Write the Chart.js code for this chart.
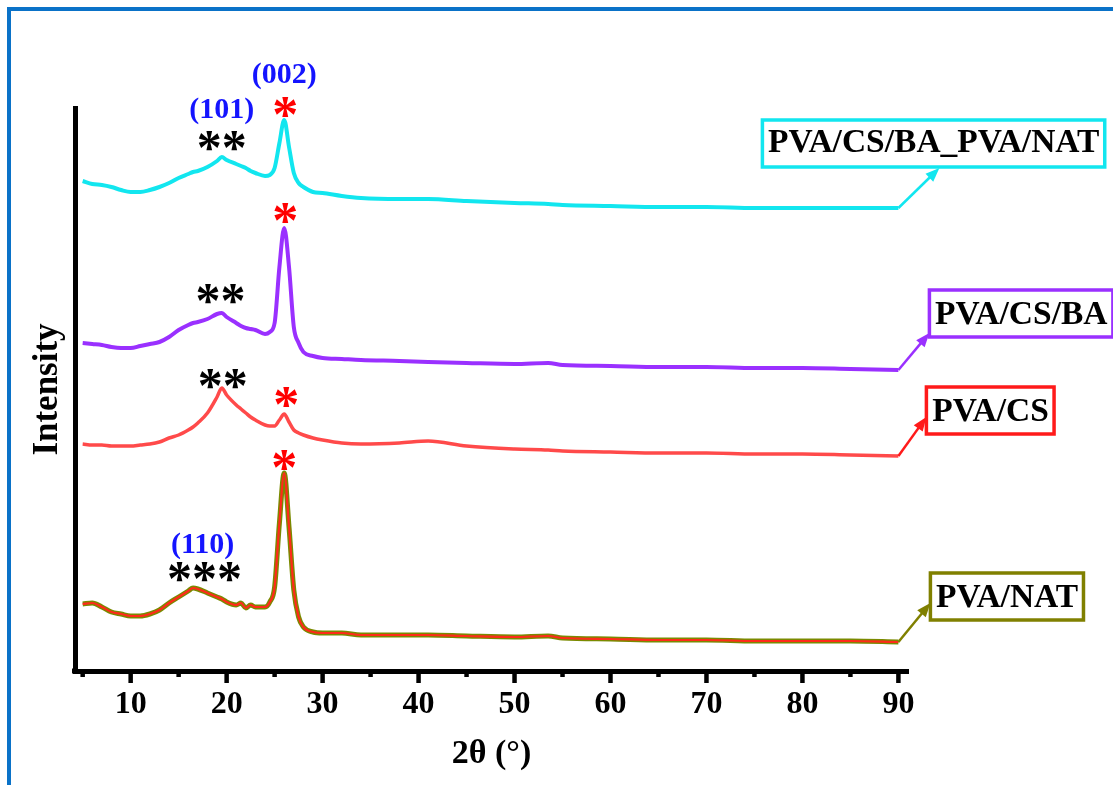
<!DOCTYPE html>
<html>
<head>
<meta charset="utf-8">
<title>XRD patterns</title>
<script src="https://cdn.jsdelivr.net/npm/chart.js@4.4.1/dist/chart.umd.min.js"></script>
<style>
  html, body { margin: 0; padding: 0; background: #fff; overflow: hidden; }
  #wrap { position: relative; width: 1113px; height: 785px; }
  #frame { position: absolute; left: 7px; top: 7px; width: 1130px; height: 800px; border: 4px solid #0a72c8; box-sizing: border-box; }
  canvas { position: absolute; left: 0; top: 0; }
</style>
</head>
<body>
<div id="wrap">
  <div id="frame"></div>
  <canvas id="xrd" width="1113" height="785"></canvas>
</div>
<script>
// 2-theta sample positions (degrees)
const theta = [5, 6, 7, 8, 9, 10, 11, 12, 13, 14, 15, 16, 16.5, 17, 18, 19, 19.5, 20, 21, 21.5,
  22, 22.5, 23, 24, 24.5, 25, 25.5, 26, 26.5, 27, 27.5, 28, 29, 30, 32, 34, 38, 41, 45, 50,
  53.5, 55, 60, 65, 70, 75, 80, 85, 90];

// intensities (arb. units, curves already offset)
const pvaCsBaPvaNat = [490, 487, 486, 484, 481, 479, 479, 481, 484, 488, 493, 497, 499, 500, 504, 510, 514, 511, 507, 505,
  503, 500, 498, 495, 496, 503, 528, 551, 524, 498, 488, 484, 479, 478, 475, 473, 472, 472, 470, 468,
  467, 466, 465, 464, 464, 463, 463, 463, 463];
const pvaCsBa = [328, 327, 326, 324, 323, 323, 325, 327, 329, 334, 341, 346, 348, 349, 352, 357, 358, 354, 348, 345,
  343, 342, 341, 337, 339, 348, 404, 443, 404, 344, 328, 319, 315, 313, 312, 311, 310, 309, 308, 307,
  308, 306, 305, 304, 304, 303, 303, 302, 301];
const pvaCs = [227, 226, 226, 225, 225, 225, 226, 227, 229, 233, 236, 241, 244, 248, 258, 274, 283, 276, 266, 262,
  258, 254, 251, 246, 245, 245, 251, 257, 249, 241, 238, 236, 233, 231, 228, 227, 228, 230, 225, 222,
  221, 220, 219, 218, 218, 217, 217, 216, 215];
const pvaNat = [67, 68, 64, 59, 57, 55, 55, 57, 61, 68, 74, 80, 83, 82, 78, 74, 72, 69, 66, 68,
  63, 66, 64, 64, 69, 84, 148, 198, 144, 81, 54, 44, 39, 38, 38, 36, 36, 36, 35, 34,
  35, 33, 32, 31, 31, 30, 30, 30, 29];

const seriesNames = ["PVA/CS/BA_PVA/NAT", "PVA/CS/BA", "PVA/CS", "PVA/NAT"];
const xTicks = [10, 20, 30, 40, 50, 60, 70, 80, 90];
const xMinorTicks = [5, 15, 25, 35, 45, 55, 65, 75, 85];

const SERIF = "'Liberation Serif', 'Times New Roman', serif";

// peak markers, in data coordinates
const notes = [
  { text: "(002)", x: 26.0, y: 595, kind: "hkl" },
  { text: "*", x: 26.1, y: 564, kind: "red" },
  { text: "(101)", x: 19.5, y: 560, kind: "hkl" },
  { text: "**", x: 19.5, y: 530, kind: "black" },
  { text: "*", x: 26.1, y: 458, kind: "red" },
  { text: "**", x: 19.35, y: 377, kind: "black" },
  { text: "**", x: 19.6, y: 292, kind: "black" },
  { text: "*", x: 26.2, y: 274, kind: "red" },
  { text: "*", x: 26.0, y: 211, kind: "red" },
  { text: "(110)", x: 17.5, y: 125, kind: "hkl" },
  { text: "***", x: 17.7, y: 99, kind: "black" }
];
const noteStyle = {
  hkl: { font: "bold 30px " + SERIF, color: "#1414ff" },
  red: { font: "bold 52px " + SERIF, color: "#ff0000" },
  black: { font: "bold 50px " + SERIF, color: "#000000" }
};

// label boxes: arrow from curve end, box offset from arrow tip
const tags = [
  { data: pvaCsBaPvaNat, color: "#12e6ef", dx: 41, dy: -40, bx: -177, by: -48 },
  { data: pvaCsBa, color: "#9a30ff", dx: 31, dy: -37, bx: 0, by: -43 },
  { data: pvaCs, color: "#ff1a1a", dx: 28, dy: -39, bx: 0, by: -30 },
  { data: pvaNat, color: "#808000", dx: 32, dy: -39, bx: 0, by: -30 }
];

function pts(ys) {
  return theta.map((t, i) => ({ x: t, y: ys[i] }));
}

function inkText(ctx, text, cx, cy, font, color) {
  ctx.font = font;
  ctx.fillStyle = color;
  ctx.textAlign = "left";
  ctx.textBaseline = "alphabetic";
  const m = ctx.measureText(text);
  const w = m.actualBoundingBoxLeft + m.actualBoundingBoxRight;
  const h = m.actualBoundingBoxAscent + m.actualBoundingBoxDescent;
  ctx.fillText(text, cx - w / 2 + m.actualBoundingBoxLeft, cy + h / 2 - m.actualBoundingBoxDescent);
}

const decor = {
  id: "decor",
  afterDraw(chart) {
    const ctx = chart.ctx;
    const xs = chart.scales.x;
    const ys = chart.scales.y;
    const bottom = chart.chartArea.bottom;
    ctx.save();

    // tick marks
    ctx.strokeStyle = "#000";
    ctx.lineWidth = 4.5;
    xTicks.concat(xMinorTicks).forEach(v => {
      const px = xs.getPixelForValue(v);
      ctx.beginPath();
      ctx.moveTo(px, bottom);
      ctx.lineTo(px, bottom + (xTicks.includes(v) ? 12 : 6));
      ctx.stroke();
    });
    // axis line reaches a little past the y axis
    ctx.lineWidth = 5;
    ctx.beginPath();
    ctx.moveTo(chart.chartArea.left - 3, bottom);
    ctx.lineTo(chart.chartArea.left + 2, bottom);
    ctx.stroke();

    // peak markers
    notes.forEach(n => {
      const s = noteStyle[n.kind];
      inkText(ctx, n.text, xs.getPixelForValue(n.x), ys.getPixelForValue(n.y), s.font, s.color);
    });

    // series labels with arrows
    const labelFont = "bold 33.5px " + SERIF;
    tags.forEach((t, i) => {
      const x0 = xs.getPixelForValue(theta[theta.length - 1]);
      const y0 = ys.getPixelForValue(t.data[t.data.length - 1]);
      const x1 = x0 + t.dx, y1 = y0 + t.dy;
      const ang = Math.atan2(y1 - y0, x1 - x0);
      ctx.strokeStyle = t.color;
      ctx.fillStyle = t.color;
      ctx.lineWidth = 2.5;
      ctx.beginPath();
      ctx.moveTo(x0, y0);
      ctx.lineTo(x1 - 10 * Math.cos(ang), y1 - 10 * Math.sin(ang));
      ctx.stroke();
      ctx.beginPath();
      ctx.moveTo(x1, y1);
      ctx.lineTo(x1 - 14 * Math.cos(ang) + 5.5 * Math.sin(ang), y1 - 14 * Math.sin(ang) - 5.5 * Math.cos(ang));
      ctx.lineTo(x1 - 14 * Math.cos(ang) - 5.5 * Math.sin(ang), y1 - 14 * Math.sin(ang) + 5.5 * Math.cos(ang));
      ctx.closePath();
      ctx.fill();

      ctx.font = labelFont;
      const w = ctx.measureText(seriesNames[i]).width + 11;
      const h = 47;
      const bx = x1 + t.bx, by = y1 + t.by;
      ctx.fillStyle = "#fff";
      ctx.fillRect(bx, by, w, h);
      ctx.lineWidth = 3.5;
      ctx.strokeRect(bx, by, w, h);
      inkText(ctx, seriesNames[i], bx + w / 2, by + h / 2, labelFont, "#000");
    });
    ctx.restore();
  }
};

const line = { pointRadius: 0, cubicInterpolationMode: "monotone", fill: false };

new Chart(document.getElementById("xrd"), {
  type: "line",
  data: {
    datasets: [
      Object.assign({ label: seriesNames[0], data: pts(pvaCsBaPvaNat), borderColor: "#12e6ef", borderWidth: 4, order: 0 }, line),
      Object.assign({ label: seriesNames[1], data: pts(pvaCsBa), borderColor: "#9a30ff", borderWidth: 4, order: 0 }, line),
      Object.assign({ label: seriesNames[2], data: pts(pvaCs), borderColor: "#ff4a4a", borderWidth: 3.5, order: 0 }, line),
      Object.assign({ label: seriesNames[3], data: pts(pvaNat), borderColor: "#ff2a1a", borderWidth: 2.2, order: 0 }, line),
      Object.assign({ label: "edge", data: pts(pvaNat), borderColor: "#7a8a00", borderWidth: 5, order: 1 }, line)
    ]
  },
  options: {
    responsive: false,
    animation: false,
    layout: { padding: { left: 0, top: 108, right: 205, bottom: 0 } },
    plugins: { legend: { display: false }, tooltip: { enabled: false } },
    scales: {
      x: {
        type: "linear",
        min: 4.2,
        max: 91,
        afterBuildTicks: s => { s.ticks = xTicks.map(v => ({ value: v })); },
        afterFit: s => { s.height = 114; },
        grid: { display: false, drawTicks: false },
        border: { display: true, color: "#000", width: 5 },
        ticks: { padding: 15, color: "#000", font: { family: SERIF, size: 32, weight: "bold" } },
        title: { display: true, text: "2θ (°)", color: "#000", padding: { top: 0, bottom: 10 }, font: { family: SERIF, size: 34, weight: "bold" } }
      },
      y: {
        min: 0,
        max: 563,
        afterFit: s => { s.width = 75; },
        grid: { display: false, drawTicks: false },
        border: { display: true, color: "#000", width: 5 },
        ticks: { display: false },
        title: { display: true, text: "Intensity", color: "#000", padding: { top: 27, bottom: 0 }, font: { family: SERIF, size: 35, weight: "bold" } }
      }
    }
  },
  plugins: [decor]
});
</script>
</body>
</html>
